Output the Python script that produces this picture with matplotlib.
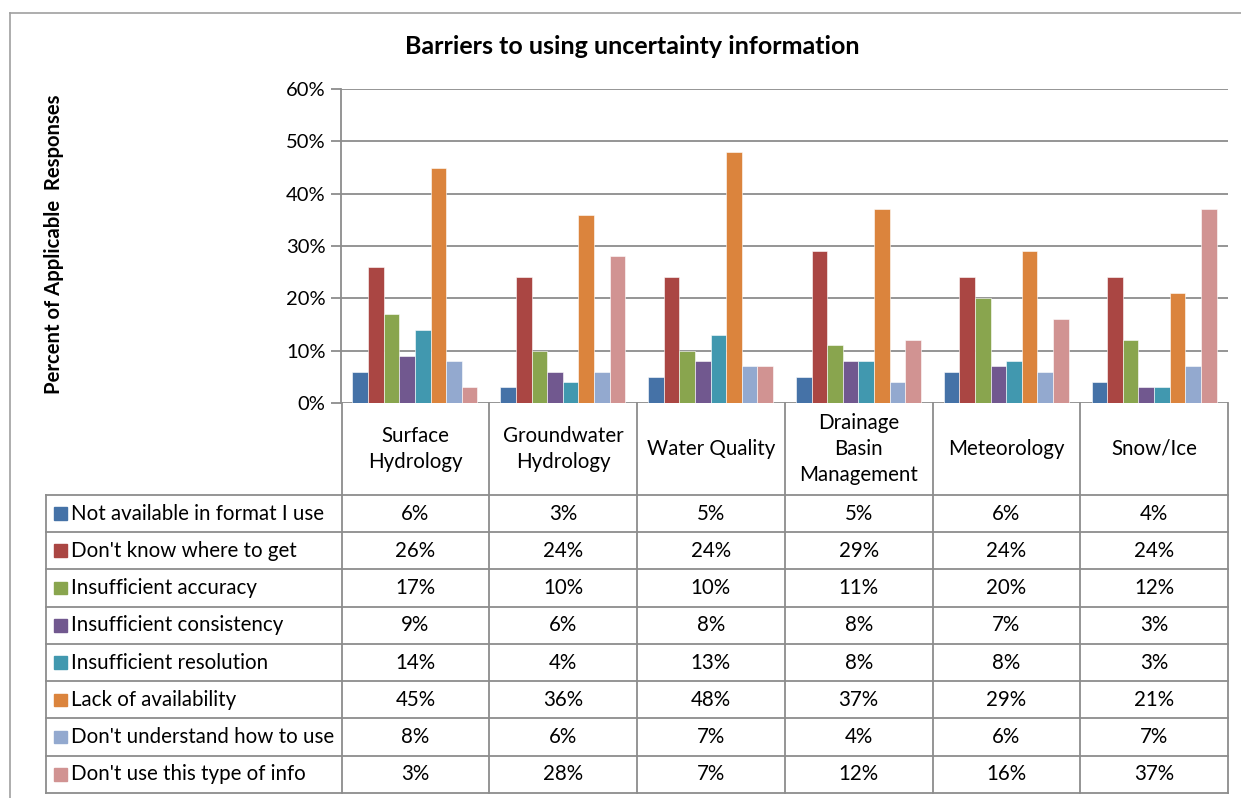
import numpy as np
import matplotlib
matplotlib.use("Agg")
import matplotlib.pyplot as plt
from matplotlib.patches import Rectangle
from matplotlib.lines import Line2D

plt.rcParams['font.family'] = ['Lato', 'DejaVu Sans']

categories = ["Surface\nHydrology", "Groundwater\nHydrology", "Water Quality",
              "Drainage\nBasin\nManagement", "Meteorology", "Snow/Ice"]
series = ["Not available in format I use", "Don't know where to get",
          "Insufficient accuracy", "Insufficient consistency",
          "Insufficient resolution", "Lack of availability",
          "Don't understand how to use", "Don't use this type of info"]
not_available = [6, 3, 5, 5, 6, 4]
dont_know_where = [26, 24, 24, 29, 24, 24]
insuff_accuracy = [17, 10, 10, 11, 20, 12]
insuff_consistency = [9, 6, 8, 8, 7, 3]
insuff_resolution = [14, 4, 13, 8, 8, 3]
lack_availability = [45, 36, 48, 37, 29, 21]
dont_understand = [8, 6, 7, 4, 6, 7]
dont_use = [3, 28, 7, 12, 16, 37]
values = [not_available, dont_know_where, insuff_accuracy, insuff_consistency,
          insuff_resolution, lack_availability, dont_understand, dont_use]
colors = ["#4572A7", "#AA4643", "#89A54E", "#71588F",
          "#4198AF", "#DB843D", "#93A9CF", "#D19392"]

W, H = 1241, 798
fig = plt.figure(figsize=(W / 100, H / 100), dpi=100)
grid_c = "#8c8c8c"
fs = 14.8

def fx(px):
    return px / W

def fy(py):
    return 1 - py / H

# outer chart border (left and top only visible)
fig.add_artist(Line2D([fx(10), fx(10)], [fy(13), 0], color="#a0a0a0", lw=1.2))
fig.add_artist(Line2D([fx(10), 1], [fy(13), fy(13)], color="#a0a0a0", lw=1.2))

# bar plot
ax = fig.add_axes([fx(341), fy(403), fx(1228) - fx(341), fy(89) - fy(403)])
n = len(series)
bw = 0.1056
x = np.arange(len(categories)) + 0.5
for i in range(n):
    ax.bar(x + (i - (n - 1) / 2) * bw, values[i], width=bw, color=colors[i],
           edgecolor="white", linewidth=0.4, zorder=3)
ax.set_xlim(0, 6)
ax.set_ylim(0, 60)
ax.set_yticks(range(0, 61, 10))
ax.set_yticklabels([f"{v}%" for v in range(0, 61, 10)], fontsize=14.5)
ax.yaxis.grid(True, color=grid_c, lw=1.3, zorder=0)
ax.tick_params(axis="y", length=7, width=1.3, color=grid_c, pad=4)
ax.set_xticks([])
for s in ["top", "right", "bottom"]:
    ax.spines[s].set_visible(False)
ax.spines["left"].set_color(grid_c)
ax.spines["left"].set_linewidth(1.3)

fig.text(fx(632), fy(46), "Barriers to using uncertainty information",
         ha="center", va="center", fontsize=18, fontweight="bold")
fig.text(fx(54), fy(244), "Percent of Applicable  Responses", rotation=90,
         ha="center", va="center", fontsize=14.6, fontweight="bold")

# data table
hdr = 92 / 37.3
tab = fig.add_axes([fx(46), fy(793), fx(1228) - fx(46), fy(403) - fy(793)])
tab.set_xlim(-2, 6)
tab.set_ylim(hdr + n, 0)
tab.axis("off")
lc = dict(color=grid_c, lw=1.3, clip_on=False)
for c in range(7):
    tab.plot([c, c], [0, hdr + n], **lc)
tab.plot([-2, -2], [hdr, hdr + n], **lc)
for r in range(n + 1):
    tab.plot([-2, 6], [hdr + r, hdr + r], **lc)
for j, cat in enumerate(categories):
    tab.text(j + 0.5, hdr / 2, cat, ha="center", va="center", fontsize=fs,
             linespacing=1.4)
for i in range(n):
    yc = hdr + i + 0.5
    tab.add_patch(Rectangle((-1.945, yc - 0.17), 0.088, 0.34,
                            color=colors[i], clip_on=False))
    tab.text(-1.83, yc, series[i], ha="left", va="center", fontsize=fs)
    for j in range(len(categories)):
        tab.text(j + 0.5, yc, f"{values[i][j]}%", ha="center", va="center",
                 fontsize=fs)

fig.savefig("out.png", dpi=100)
